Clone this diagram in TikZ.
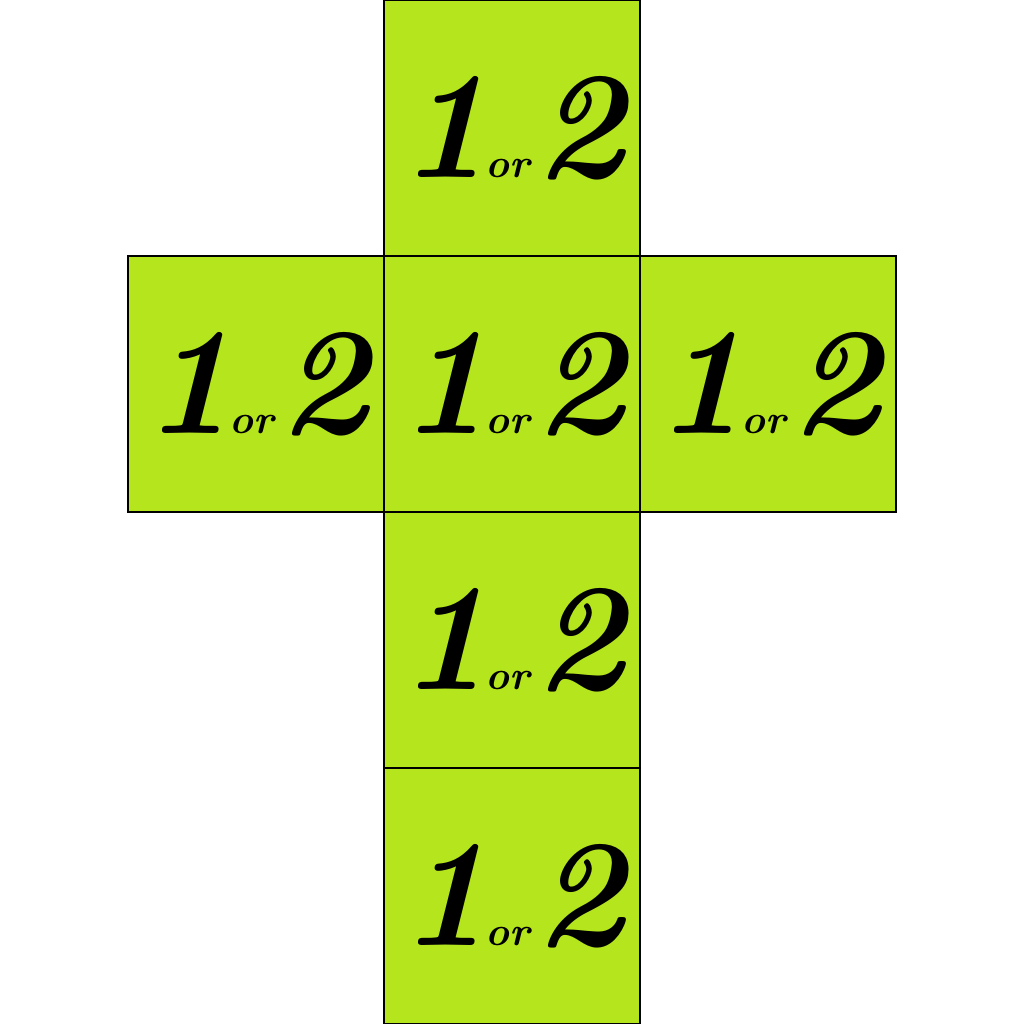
\documentclass[tikz,border=0pt]{standalone}
\usetikzlibrary{positioning}
\definecolor{netlime}{RGB}{181,230,29}
\newcommand{\oneortwo}{1\kern-1pt{\fontsize{9}{9}\selectfont or}\kern1pt2}

\begin{document}
\begin{tikzpicture}[
  node distance=0mm,
  face/.style={draw, fill=netlime, line width=0.4pt, minimum size=2cm, inner sep=0pt, outer sep=0pt,
    font=\fontsize{34}{34}\selectfont\bfseries\itshape}
]
\useasboundingbox (0,0) rectangle (8,8);
% the net of the cube
\node[face] (top) at (4,7) {\oneortwo};
\node[face, below=of top] (mid) {\oneortwo};
\node[face, left=of mid] (left) {\oneortwo};
\node[face, right=of mid] (right) {\oneortwo};
\node[face, below=of mid] (low) {\oneortwo};
\node[face, below=of low] (bottom) {\oneortwo};
\end{tikzpicture}
\end{document}
